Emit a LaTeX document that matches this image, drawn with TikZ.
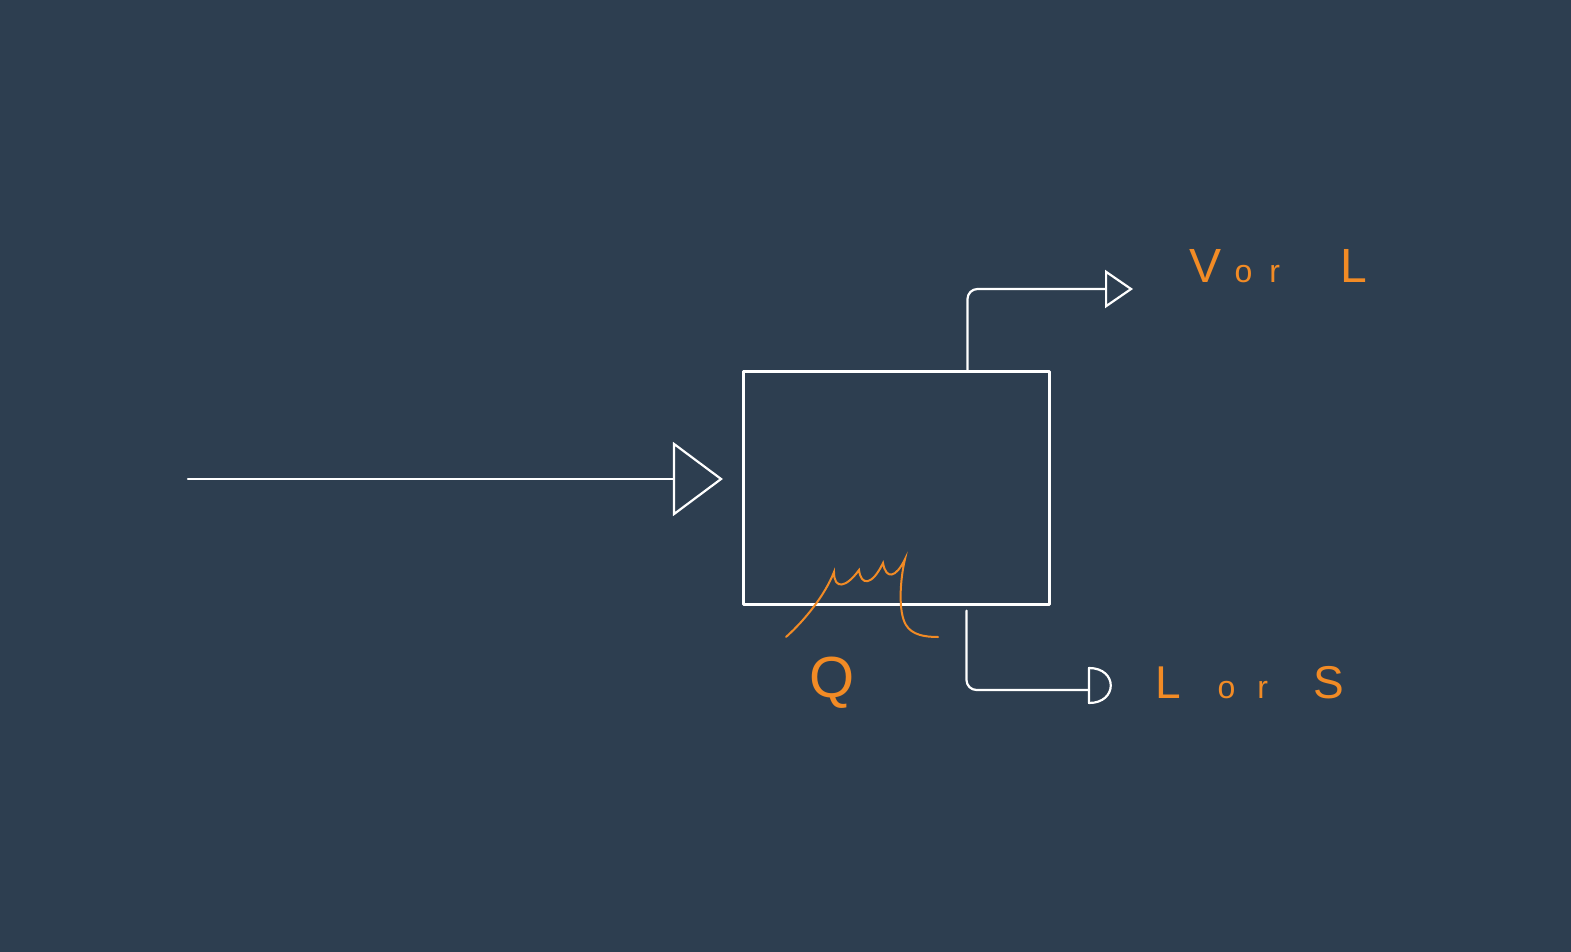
\documentclass[tikz,border=0pt]{standalone}
\usepackage{fontspec}
\setmainfont{Liberation Sans}
\usepackage{tikz}
\usetikzlibrary{arrows.meta,positioning,calc}

\definecolor{board}{HTML}{2D3E50}
\definecolor{chalk}{HTML}{F28B25}

\tikzset{
    flow/.style={draw=white, line width=2.2pt, line cap=round, line join=round},
    coil/.style={draw=chalk, line width=2pt, line cap=round},
    tag/.style={text=chalk, inner sep=0pt, font=\fontsize{48}{48}\selectfont},
    bigtip/.style={-{Triangle[open, length=50pt, width=74pt]}},
    smalltip/.style={-{Triangle[open, length=28pt, width=38pt]}}
}

\begin{document}
\begin{tikzpicture}[x=1pt, y=-1pt]
    \fill[board] (0,0) rectangle (1571,952);
    \useasboundingbox (0,0) rectangle (1571,952);

    % vessel
    \node[flow, draw, minimum width=306pt, minimum height=233pt, inner sep=0pt] (tank) at (896.5,488) {};

    % feed
    \coordinate (feed) at (188,479);
    \draw[flow, bigtip] (feed) -- ([xshift=-19.5pt]feed -| tank.west);

    % top outlet
    \coordinate (vout) at (1133,289);
    \draw[flow, smalltip, rounded corners=10pt] ([xshift=71pt]tank.north) |- (vout);
    \node[tag, anchor=base west] (vorl) at (1189,282) {V {\fontsize{32}{32}\selectfont o\hspace{17pt}r}\hspace{47pt} L};

    % bottom outlet
    \coordinate (lout) at (1089,690);
    \draw[flow, rounded corners=10pt] ([xshift=70pt, yshift=-5pt]tank.south) |- (lout);
    \draw[flow] (lout) ++(0,-22) -- ++(0,35) .. controls +(29,0) and +(29,0) .. ++(0,-35) -- cycle;
    \node[tag, anchor=base west, font=\fontsize{46}{46}\selectfont] (lors) at (1155,698) {L\hspace{24pt} {\fontsize{32}{32}\selectfont o\hspace{22pt}r}\hspace{33pt} S};

    % heating coil
    \draw[coil] (786,637) .. controls (805,620) and (825,595) .. (834,572)
        .. controls (834,590) and (846,588) .. (859,570)
        .. controls (861,586) and (872,586) .. (883,563)
        .. controls (886,580) and (896,578) .. (905,559)
        .. controls (900,580) and (898,612) .. (906,625)
        .. controls (912,635) and (925,637) .. (938,637);
    \node[tag, anchor=base west, font=\fontsize{58}{58}\selectfont] (heat) at (809,697) {Q};
\end{tikzpicture}
\end{document}
